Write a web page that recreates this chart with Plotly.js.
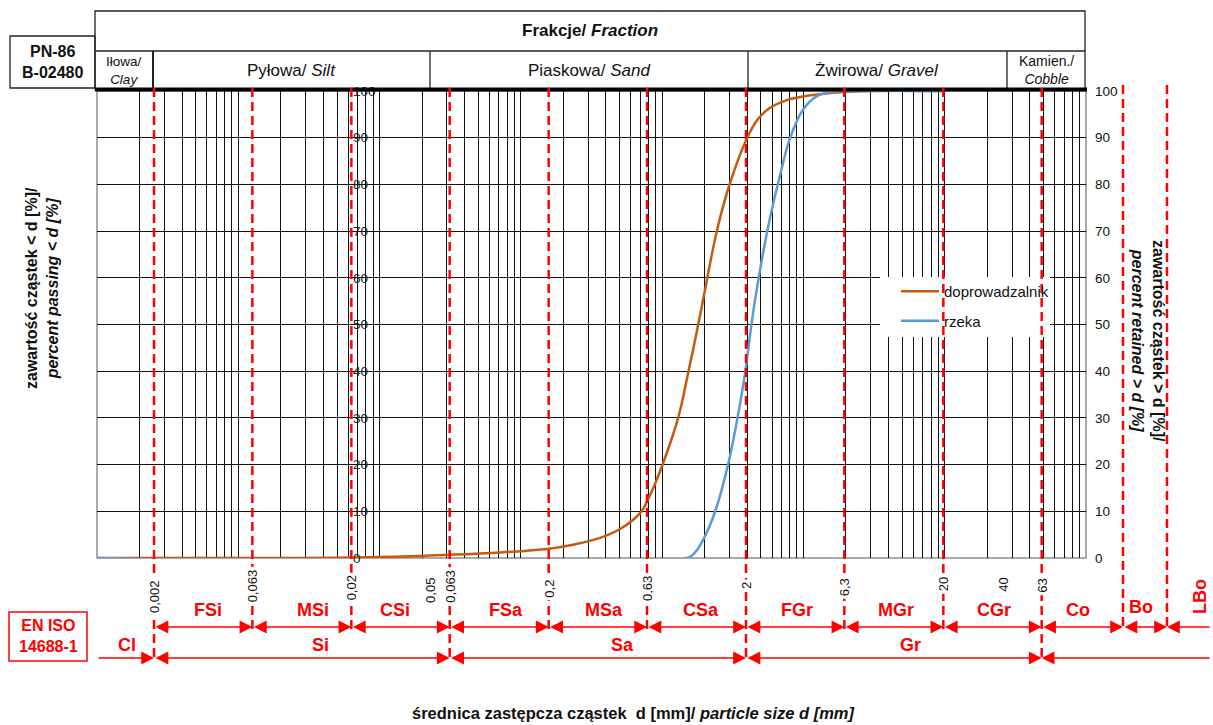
<!DOCTYPE html>
<html><head><meta charset="utf-8">
<script src="https://cdn.plot.ly/plotly-3.0.1.min.js"></script>
<style>html,body{margin:0;padding:0;background:#fff}#chart{width:1213px;height:725px}</style>
</head><body><div id="chart"></div>
<script>
// ---------------- DATA ----------------
const seriesNames = ['doprowadzalnik', 'rzeka'];
const sizeOrange = [0.001, 0.011, 0.0273, 0.064, 0.1135, 0.201, 0.27, 0.364, 0.46, 0.581, 0.653, 0.76, 0.906, 1.018, 1.13, 1.241, 1.426, 1.66, 2.024, 2.3, 2.649, 3.15, 3.76, 5.53, 8.51, 20];
const passOrange = [0, 0, 0.2, 0.7, 1.2, 2.0, 2.9, 4.3, 6.2, 9.6, 13.5, 20.3, 30, 39.6, 48.8, 57.5, 70.2, 80.3, 89.9, 94, 96.4, 97.9, 98.7, 99.6, 100, 100];
const sizeBlue = [0.001, 1.005, 1.104, 1.213, 1.394, 1.622, 1.803, 1.978, 2.147, 2.277, 2.588, 2.978, 3.344, 3.89, 4.58, 5.53, 6.74, 20];
const passBlue = [0, 0, 1.2, 3.9, 9.9, 20, 29.6, 39.6, 51, 58, 70.9, 82, 89.9, 96, 98.9, 99.8, 100, 100];

// fraction boundaries (mm) and labels
const boundaries = [0.002, 0.0063, 0.02, 0.063, 0.2, 0.63, 2, 6.3, 20, 63];
const mainBoundaries = [0.002, 0.063, 2, 63];
const tickVals = [0.002, 0.0063, 0.02, 0.05, 0.063, 0.2, 0.63, 2, 6.3, 20, 40, 63];
const tickText = ['0,002', '0,063', '0,02', '0,05', '0,063', '0,2', '0,63', '2', '6,3', '20', '40', '63'];
const subFractions = ['FSi', 'MSi', 'CSi', 'FSa', 'MSa', 'CSa', 'FGr', 'MGr', 'CGr', 'Co'];
const subLabelPos = [0.00376, 0.0128, 0.0333, 0.1216, 0.382, 1.18, 3.63, 11.5, 36.2, 96];
const mainFractions = ['Cl', 'Si', 'Sa', 'Gr'];
const mainLabelPos = [0.00146, 0.014, 0.476, 13.6];
const yTicks = [0, 10, 20, 30, 40, 50, 60, 70, 80, 90, 100];

// --------------- LAYOUT HELPERS (decoration placement) ---------------
const L = 97, R = 1086, T = 91, B = 558;
const PW = R - L, PH = B - T;
const px2x = p => (p - L) / PW;
const py2y = p => 1 - (p - T) / PH;
const xRange = [-2.988, 2.024];
const v2px = v => L + PW * (Math.log10(v) - xRange[0]) / (xRange[1] - xRange[0]);
const FONT = 'Liberation Sans, Arial, sans-serif';
const RED = '#ff0000';
const boPx = 1123, lboPx = 1167, rightEndPx = 1211;
const tickLabelY = [597, 586, 588, 590, 586, 589, 589, 586, 587, 584, 585, 586];

const traces = [
  {x: sizeOrange, y: passOrange, name: seriesNames[0], type: 'scatter', mode: 'lines',
   line: {color: '#c55a11', width: 2.5, shape: 'spline', smoothing: 1.1}, legendgroup: 'a'},
  {x: sizeBlue, y: passBlue, name: seriesNames[1], type: 'scatter', mode: 'lines',
   line: {color: '#5b9bd5', width: 2.5, shape: 'spline', smoothing: 1.1}, legendgroup: 'b'},
  // empty traces that carry the log gridline axis and the right axis
  {x: [], y: [], xaxis: 'x2', yaxis: 'y', showlegend: false, hoverinfo: 'skip', type: 'scatter', mode: 'lines'},
  {x: [], y: [], yaxis: 'y2', showlegend: false, hoverinfo: 'skip', type: 'scatter', mode: 'lines'}
];

const shapes = [];
// white legend background (covers gridlines)
shapes.push({type: 'rect', xref: 'paper', yref: 'paper', x0: px2x(880), x1: px2x(1050), y0: py2y(337), y1: py2y(277),
  fillcolor: '#ffffff', line: {width: 0}, layer: 'above'});
// plot frame
shapes.push({type: 'rect', xref: 'paper', yref: 'paper', x0: 0, x1: 1, y0: 0, y1: 1,
  line: {color: '#8f8f8f', width: 1.5}, layer: 'between'});
// header table
const hdr = {color: '#222', width: 1.3};
shapes.push({type: 'rect', xref: 'paper', yref: 'paper', x0: px2x(95), x1: px2x(1085), y0: py2y(89), y1: py2y(11), line: hdr, layer: 'above'});
shapes.push({type: 'line', xref: 'paper', yref: 'paper', x0: px2x(95), x1: px2x(1085), y0: py2y(51), y1: py2y(51), line: hdr, layer: 'above'});
[153, 430, 748, 1007].forEach((p, i) => shapes.push({type: 'line', xref: 'paper', yref: 'paper', x0: px2x(p), x1: px2x(p), y0: py2y(89), y1: py2y(51), line: {color: '#222', width: i === 0 ? 2 : 1.3}, layer: 'above'}));
// PN-86 box
shapes.push({type: 'rect', xref: 'paper', yref: 'paper', x0: px2x(10), x1: px2x(95), y0: py2y(88), y1: py2y(36), line: hdr, layer: 'above'});
// EN ISO box
shapes.push({type: 'rect', xref: 'paper', yref: 'paper', x0: px2x(9), x1: px2x(87), y0: py2y(661), y1: py2y(612), line: {color: RED, width: 1.5}, layer: 'above'});
// thick top line of plot
shapes.push({type: 'line', xref: 'paper', yref: 'paper', x0: px2x(95), x1: px2x(1087), y0: py2y(89.5), y1: py2y(89.5), line: {color: '#000', width: 4}, layer: 'above'});
// red dashed fraction boundaries
const dashStyle = {color: RED, width: 2.5, dash: '9px,5px'};
boundaries.forEach(b => {
  const long = mainBoundaries.includes(b);
  shapes.push({type: 'line', xref: 'x', yref: 'paper', x0: b, x1: b, y0: py2y(88), y1: py2y(long ? 662 : 630), line: dashStyle, layer: 'above'});
});
[boPx, lboPx].forEach(p => shapes.push({type: 'line', xref: 'paper', yref: 'paper', x0: px2x(p), x1: px2x(p), y0: py2y(85), y1: py2y(630), line: dashStyle, layer: 'above'}));

const annotations = [];
const txt = (text, x, y, size, opts = {}) => Object.assign({text, xref: 'paper', yref: 'paper', x, y, showarrow: false,
  font: {family: FONT, size, color: opts.color || '#111'}, xanchor: 'center', yanchor: 'middle'}, opts.extra || {});
annotations.push(txt('<b>Frakcje/ <i>Fraction</i></b>', px2x(590), py2y(31), 17));
annotations.push(txt('Iłowa/<br><i>Clay</i>', px2x(124), py2y(70), 13.5));
annotations.push(txt('Pyłowa/ <i>Silt</i>', px2x(291), py2y(70), 17));
annotations.push(txt('Piaskowa/ <i>Sand</i>', px2x(589), py2y(70), 17));
annotations.push(txt('Żwirowa/ <i>Gravel</i>', px2x(877), py2y(70), 17));
annotations.push(txt('Kamien./<br><i>Cobble</i>', px2x(1046), py2y(70), 14));
annotations.push(txt('<b>PN-86<br>B-02480</b>', px2x(52), py2y(62), 16));
annotations.push(txt('<b>EN ISO<br>14688-1</b>', px2x(48), py2y(636), 16, {color: RED}));
annotations.push(txt('<b>zawartość cząstek &lt; d [%]/<br><i>percent passing &lt; d [%]</i></b>', px2x(42), py2y(288), 16, {extra: {textangle: -90}}));
annotations.push(txt('<b>zawartość cząstek &gt; d [%]/<br><i>percent retained &gt; d [%]</i></b>', px2x(1148), py2y(341), 16, {extra: {textangle: 90}}));
annotations.push(txt('<b>średnica zastępcza cząstek  d [mm]/ <i>particle size d [mm]</i></b>', px2x(633), py2y(713), 16.5));

// x tick labels (rotated, with white background over the dashed lines)
tickVals.forEach((v, i) => annotations.push({text: tickText[i], xref: 'x', yref: 'paper', x: Math.log10(v), y: py2y(tickLabelY[i]),
  showarrow: false, textangle: -90, xanchor: 'center', yanchor: 'middle', bgcolor: '#ffffff', borderpad: 2,
  font: {family: FONT, size: 13, color: '#111'}}));

// fraction labels
subFractions.forEach((s, i) => annotations.push({text: '<b>' + s + '</b>', xref: 'x', yref: 'paper', x: Math.log10(subLabelPos[i]), y: py2y(610),
  xanchor: 'center', yanchor: 'middle', showarrow: false, font: {family: FONT, size: 18, color: RED}}));
annotations.push(txt('<b>Bo</b>', px2x(1141), py2y(607), 18, {color: RED}));
annotations.push(txt('<b>LBo</b>', px2x(1200), py2y(597), 18, {color: RED, extra: {textangle: -90}}));
mainFractions.forEach((s, i) => annotations.push({text: '<b>' + s + '</b>', xref: 'x', yref: 'paper', x: Math.log10(mainLabelPos[i]), y: py2y(645),
  xanchor: 'center', yanchor: 'middle', showarrow: false, font: {family: FONT, size: 18, color: RED}}));

// arrows
const arrowBase = {text: '', showarrow: true, arrowcolor: RED, arrowwidth: 1.6, arrowsize: 1.6, arrowhead: 2, startarrowhead: 2,
  startarrowsize: 1.6, standoff: 0, startstandoff: 0, yref: 'paper', ayref: 'pixel', ay: 0};
const yUp = py2y(627), yLow = py2y(658);
for (let i = 0; i < boundaries.length - 1; i++) {
  annotations.push(Object.assign({}, arrowBase, {xref: 'x', axref: 'x', x: Math.log10(boundaries[i + 1]), ax: Math.log10(boundaries[i]), y: yUp, arrowside: 'end+start'}));
}
const last = boundaries[boundaries.length - 1];
annotations.push(Object.assign({}, arrowBase, {xref: 'paper', axref: 'pixel', x: px2x(boPx), ax: v2px(last) - boPx, y: yUp, arrowside: 'end+start'}));
annotations.push(Object.assign({}, arrowBase, {xref: 'paper', axref: 'pixel', x: px2x(lboPx), ax: boPx - lboPx, y: yUp, arrowside: 'end+start'}));
annotations.push(Object.assign({}, arrowBase, {xref: 'paper', axref: 'pixel', x: px2x(lboPx), ax: rightEndPx - lboPx, y: yUp, arrowside: 'end'}));
// lower row
annotations.push(Object.assign({}, arrowBase, {xref: 'x', axref: 'x', x: Math.log10(mainBoundaries[0]), ax: xRange[0], y: yLow, arrowside: 'end'}));
for (let i = 0; i < mainBoundaries.length - 1; i++) {
  annotations.push(Object.assign({}, arrowBase, {xref: 'x', axref: 'x', x: Math.log10(mainBoundaries[i + 1]), ax: Math.log10(mainBoundaries[i]), y: yLow, arrowside: 'end+start'}));
}
annotations.push(Object.assign({}, arrowBase, {xref: 'paper', axref: 'pixel', x: px2x(v2px(last)), ax: rightEndPx - v2px(last), y: yLow, arrowside: 'end'}));

const layout = {
  width: 1213, height: 725,
  margin: {l: L, r: 1213 - R, t: T, b: 725 - B, pad: 0},
  paper_bgcolor: '#fff', plot_bgcolor: '#fff',
  font: {family: FONT, size: 12, color: '#111'},
  showlegend: true,
  legend: {x: px2x(896), y: py2y(275), xanchor: 'left', yanchor: 'top', bgcolor: 'rgba(0,0,0,0)', borderwidth: 0,
    font: {family: FONT, size: 15, color: '#111'}, tracegroupgap: 7, itemwidth: 38},
  xaxis: {type: 'log', range: xRange, showgrid: false, zeroline: false, showline: false, showticklabels: false, ticks: ''},
  xaxis2: {type: 'log', range: [-4, 3], overlaying: 'x', dtick: 'D1', showgrid: true, gridcolor: '#111', gridwidth: 1,
    showticklabels: false, ticks: '', zeroline: false, showline: false},
  yaxis: {range: [0, 100], tickvals: yTicks, showgrid: true, gridcolor: '#111', gridwidth: 1, zeroline: false, showline: false,
    anchor: 'free', position: px2x(349), side: 'left', ticklabelposition: 'inside', ticklabeloverflow: 'allow', ticks: '',
    tickfont: {family: FONT, size: 13.5, color: '#222'}},
  yaxis2: {range: [0, 100], tickvals: yTicks, overlaying: 'y', side: 'right', showgrid: false, zeroline: false, showline: false,
    ticks: '', ticklabelstandoff: 8, tickfont: {family: FONT, size: 13.5, color: '#111'}},
  shapes, annotations
};

Plotly.newPlot('chart', traces, layout, {staticPlot: true});
</script>
</body></html>
